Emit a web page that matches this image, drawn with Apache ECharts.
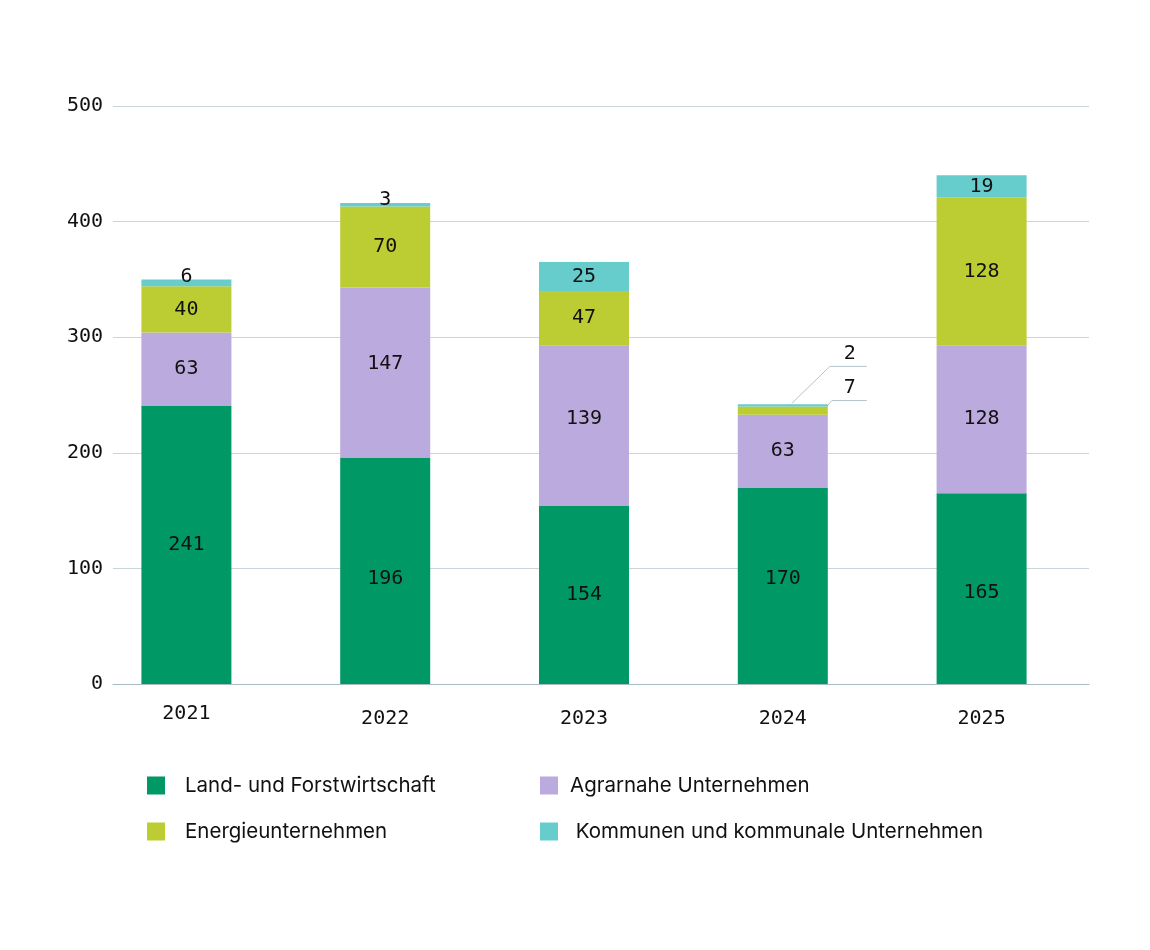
<!DOCTYPE html>
<html>
<head>
<meta charset="utf-8">
<script src="https://cdn.jsdelivr.net/npm/echarts@6/dist/echarts.min.js"></script>
<style>
  html, body { margin: 0; padding: 0; background: #fff; }
  #chart { width: 1150px; height: 950px; }
</style>
</head>
<body>
<div id="chart"></div>
<script>
// Daten
var years = ['2021', '2022', '2023', '2024', '2025'];
var landForst = [241, 196, 154, 170, 165];
var agrar = [63, 147, 139, 63, 128];
var energie = [40, 70, 47, 7, 128];
var kommunen = [6, 3, 25, 2, 19];
var yTicks = [0, 100, 200, 300, 400, 500];

(function () {
    var myChart = echarts.init(document.getElementById('chart'));
    var mono = 'DejaVu Sans Mono';
    var sans = 'Inter';
    var top = 106, bottom = 950 - 684;

    // Label-Verschiebungen wie im Original
    var landOff = [0, 8, 0, -7, 4];
    var agrarOff = [0, -9, -7, 0, 0];

    function withOffset(values, off) {
        return values.map(function (v, i) {
            if (!off[i]) return v;
            return { value: v, label: { offset: [0, off[i]] } };
        });
    }

    // kleine Segmente: Label oben bzw. mit Hinweislinie
    var komData = kommunen.map(function (v, i) {
        if (i === 0 || i === 1) return { value: v, label: { position: 'top', distance: -7 } };
        if (i === 3) return { value: v, label: { show: false } };
        return v;
    });
    var eneData = energie.map(function (v, i) {
        if (i === 3) return { value: v, label: { show: false } };
        return v;
    });

    // Hinweislinien für 2024
    var idx24 = years.indexOf('2024');
    var eneTop = landForst[idx24] + agrar[idx24] + energie[idx24];
    var komMid = eneTop + kommunen[idx24] / 2;
    var callouts = [
        [idx24, eneTop, String(energie[idx24])],
        [idx24, komMid, String(kommunen[idx24])]
    ];
    var calloutShape = [
        { sx: 44, sy: 0, ex: 49, ey: -6 },
        { sx: 9, sy: -2, ex: 47, ey: -39 }
    ];

    var barLabel = { show: true, color: '#111', fontFamily: mono, fontSize: 20 };

    var yearData = years.map(function (y, i) {
        return i === 0 ? y : { value: y, textStyle: { padding: [5, 0, 0, 0] } };
    });

    function legendText(pad) {
        return { fontFamily: sans, fontSize: 20.5, lineHeight: 18, color: '#111', padding: [0, 0, 0, pad] };
    }

    var option = {
        backgroundColor: '#fff',
        animation: false,
        grid: [
            { left: 113, right: 61, top: top, bottom: bottom },
            { left: 87, right: 69, top: top, bottom: bottom }
        ],
        legend: [
            {
                left: 147, top: 775, orient: 'vertical', itemGap: 25, padding: 0,
                itemWidth: 18, itemHeight: 18, icon: 'rect',
                textStyle: legendText(15),
                data: ['Land- und Forstwirtschaft', 'Energieunternehmen']
            },
            {
                left: 540, top: 775, orient: 'vertical', itemGap: 25, padding: 0,
                itemWidth: 18, itemHeight: 18, icon: 'rect',
                textStyle: legendText(7),
                formatter: function (name) {
                    return name.indexOf('Kommunen') === 0 ? ' ' + name : name;
                },
                data: ['Agrarnahe Unternehmen', 'Kommunen und kommunale Unternehmen']
            }
        ],
        xAxis: [
            {
                gridIndex: 0, type: 'category', data: years,
                axisLine: { lineStyle: { color: '#a9bcc6', width: 1 } },
                axisTick: { show: false }, axisLabel: { show: false }
            },
            {
                gridIndex: 1, type: 'category', data: yearData,
                axisLine: { show: false }, axisTick: { show: false },
                axisLabel: { color: '#111', fontFamily: mono, fontSize: 20, margin: 20 }
            }
        ],
        yAxis: [
            {
                gridIndex: 0, type: 'value', min: yTicks[0], max: yTicks[yTicks.length - 1], interval: 100,
                axisLine: { show: false }, axisTick: { show: false },
                axisLabel: { color: '#111', fontFamily: mono, fontSize: 20, margin: 10 },
                splitLine: { lineStyle: { color: '#cbd4d9', width: 1 } }
            },
            {
                gridIndex: 1, type: 'value', min: yTicks[0], max: yTicks[yTicks.length - 1], interval: 100,
                show: false, splitLine: { show: false }
            }
        ],
        series: [
            {
                name: 'Land- und Forstwirtschaft', type: 'bar', stack: 'total',
                xAxisIndex: 1, yAxisIndex: 1, barWidth: 90,
                itemStyle: { color: '#009966' }, label: barLabel, data: withOffset(landForst, landOff)
            },
            {
                name: 'Agrarnahe Unternehmen', type: 'bar', stack: 'total',
                xAxisIndex: 1, yAxisIndex: 1, barWidth: 90,
                itemStyle: { color: '#bbaadd' }, label: barLabel, data: withOffset(agrar, agrarOff)
            },
            {
                name: 'Energieunternehmen', type: 'bar', stack: 'total',
                xAxisIndex: 1, yAxisIndex: 1, barWidth: 90,
                itemStyle: { color: '#bccc33' }, label: barLabel, data: eneData
            },
            {
                name: 'Kommunen und kommunale Unternehmen', type: 'bar', stack: 'total',
                xAxisIndex: 1, yAxisIndex: 1, barWidth: 90,
                itemStyle: { color: '#66cccc' }, label: barLabel, data: komData
            },
            {
                type: 'custom', xAxisIndex: 1, yAxisIndex: 1, silent: true,
                data: callouts,
                renderItem: function (params, api) {
                    var p = api.coord([api.value(0), api.value(1)]);
                    var s = calloutShape[params.dataIndex];
                    var sx = p[0] + s.sx, sy = p[1] + s.sy;
                    var ex = p[0] + s.ex, ey = p[1] + s.ey;
                    var endX = p[0] + 84;
                    return {
                        type: 'group',
                        children: [
                            {
                                type: 'polyline',
                                shape: { points: [[sx, sy], [ex, ey], [endX, ey]] },
                                style: { stroke: '#b4c4cc', lineWidth: 1, fill: null }
                            },
                            {
                                type: 'text',
                                style: {
                                    x: p[0] + 67, y: ey - 3,
                                    text: api.value(2),
                                    fill: '#111', font: '20px ' + mono,
                                    textAlign: 'center', textVerticalAlign: 'bottom'
                                }
                            }
                        ]
                    };
                }
            }
        ]
    };
    myChart.setOption(option);
})();
</script>
</body>
</html>
